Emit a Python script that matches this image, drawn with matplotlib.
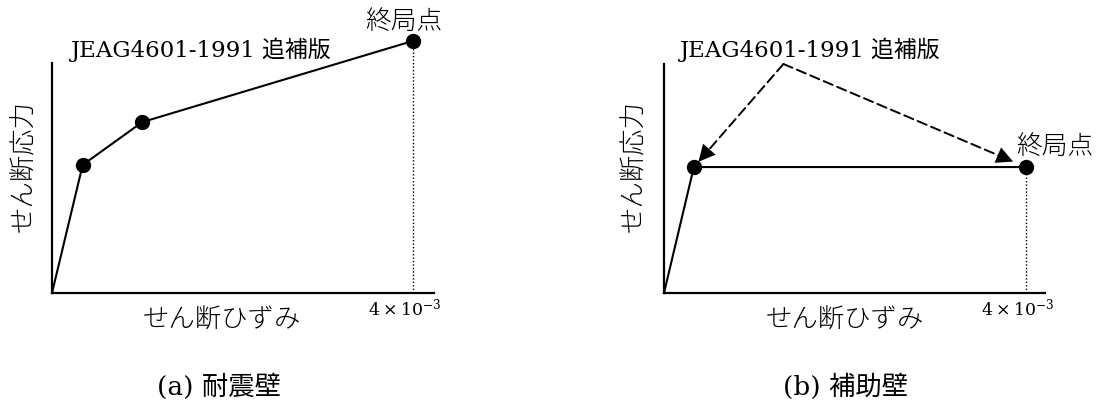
import matplotlib
matplotlib.use('Agg')
import matplotlib.pyplot as plt
import matplotlib.transforms as mtransforms

plt.rcParams['font.family'] = ['Noto Sans CJK JP', 'DejaVu Sans']
plt.rcParams['mathtext.fontset'] = 'dejavuserif'

# (a) 耐震壁: せん断ひずみ vs せん断応力 (relative)
wall_strain = [0.0, 0.34e-3, 1.0e-3, 4.0e-3]
wall_stress = [0.0, 0.557, 0.743, 1.096]

# (b) 補助壁
aux_strain = [0.0, 0.33e-3, 4.0e-3]
aux_stress = [0.0, 0.55, 0.55]

ultimate_strain = 4.0e-3
tick_label = r'$4\times10^{-3}$'
jeag_label = 'JEAG4601-1991 追補版'
ultimate_label = '終局点'
xlabel = 'せん断ひずみ'
ylabel = 'せん断応力'
captions = ['(a) 耐震壁', '(b) 補助壁']

W, H = 1104, 403
fig = plt.figure(figsize=(W / 100, H / 100), dpi=100)

serif_jp = ['DejaVu Serif', 'Noto Sans CJK JP']


def fx(px):
    return px / W


def fy(py):
    return 1 - py / H


def setup_axes(left, right, top, bottom, xmax):
    ax = fig.add_axes([fx(left), fy(bottom), fx(right - left), (bottom - top) / H])
    ax.set_xlim(0, xmax)
    ax.set_ylim(0, 1)
    for s in ['top', 'right']:
        ax.spines[s].set_visible(False)
    for s in ['left', 'bottom']:
        ax.spines[s].set_linewidth(1.6)
    ax.set_yticks([])
    ax.set_xticks([ultimate_strain])
    ax.set_xticklabels([tick_label], fontsize=12.5)
    ax.tick_params(axis='x', length=0, pad=3)
    shift = mtransforms.ScaledTranslation(-6 / 72, 0, fig.dpi_scale_trans)
    for lbl in ax.get_xticklabels():
        lbl.set_transform(lbl.get_transform() + shift)
    ax.patch.set_alpha(0)
    return ax


# left panel
axa = setup_axes(52, 434, 63, 293, 4.0e-3 / 0.945)
axa.plot([ultimate_strain, ultimate_strain], [0, wall_stress[-1]], color='k', lw=1, ls=(0, (1, 1.5)), clip_on=False)
axa.plot(wall_strain, wall_stress, color='k', lw=1.5, clip_on=False)
axa.plot(wall_strain[1:], wall_stress[1:], 'o', color='k', ms=10, clip_on=False)

# right panel
axb = setup_axes(664, 1045, 64, 293, 4.0e-3 / 0.95)
axb.plot([ultimate_strain, ultimate_strain], [0, aux_stress[-1]], color='k', lw=1, ls=(0, (1, 1.5)), clip_on=False)
axb.plot(aux_strain, aux_stress, color='k', lw=1.5, clip_on=False)
axb.plot(aux_strain[1:], aux_stress[1:], 'o', color='k', ms=10, clip_on=False)

# dashed arrows from the JEAG label to both points
start = (1.32e-3, 1.0)
for (x, y), shrink in zip([(aux_strain[1], aux_stress[1]), (aux_strain[2], aux_stress[2])], [5, 10]):
    # dashed shaft
    axb.annotate('', xy=(x, y), xytext=start,
                 arrowprops=dict(arrowstyle='-', color='k', lw=1.4, ls=(0, (5, 2.5)),
                                 shrinkA=0, shrinkB=shrink + 8),
                 annotation_clip=False)
    # solid head
    axb.annotate('', xy=(x, y), xytext=start,
                 arrowprops=dict(arrowstyle='-|>,head_length=0.6,head_width=0.3', fc='k', ec='none',
                                 lw=0, mutation_scale=20, shrinkA=0, shrinkB=shrink),
                 annotation_clip=False)

# texts
fig.text(fx(71), fy(50), jeag_label, family=serif_jp, fontsize=16.5, va='center', ha='left')
fig.text(fx(680), fy(50), jeag_label, family=serif_jp, fontsize=16.5, va='center', ha='left')
fig.text(fx(365), fy(22), ultimate_label, fontsize=18.5, weight='light', va='center', ha='left')
fig.text(fx(1016), fy(147), ultimate_label, fontsize=18.5, weight='light', va='center', ha='left')

for xc, xl in [(23, 222), (633, 845)]:
    fig.text(fx(xc), fy(166), ylabel, fontsize=19, weight='light', rotation=90, va='center', ha='center')
    fig.text(fx(xl), fy(320), xlabel, fontsize=19, weight='light', va='center', ha='center')

fig.text(fx(219), fy(387), captions[0], family=serif_jp, fontsize=19, va='center', ha='center')
fig.text(fx(846), fy(387), captions[1], family=serif_jp, fontsize=19, va='center', ha='center')

fig.savefig('out.png', dpi=100, facecolor='white')
